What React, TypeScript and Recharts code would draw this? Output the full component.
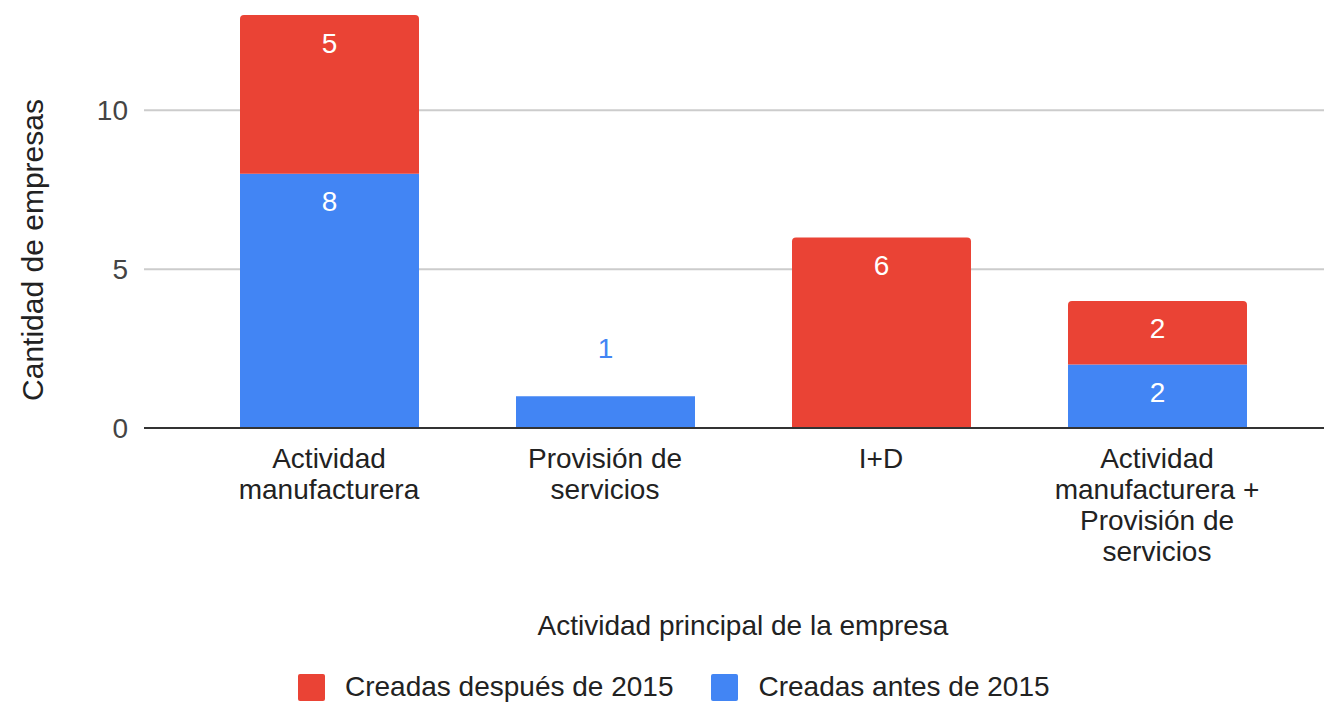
import { BarChart, Bar, XAxis, YAxis, CartesianGrid, Legend, LabelList } from "recharts";

// Actividad principal de la empresa
const categories = [
  "Actividad\nmanufacturera",
  "Provisión de\nservicios",
  "I+D",
  "Actividad\nmanufacturera +\nProvisión de\nservicios",
];
const antes2015 = [8, 1, 0, 2];
const despues2015 = [5, 0, 6, 2];
const yTicks = [0, 5, 10];
const gridValues = [5, 10];

const RED = "#ea4335";
const BLUE = "#4285f4";
const FONT = "'Liberation Sans', Arial, sans-serif";
const TEXT = "#222";
const FS = 28;

const data = categories.map((name, i) => ({
  name,
  antes: antes2015[i],
  despues: despues2015[i],
}));

const CategoryTick = (props: any) => {
  const { x, y, payload } = props;
  const lines = String(payload.value).split("\n");
  return (
    <text x={x} y={y} textAnchor="middle" fill={TEXT} fontSize={FS} fontFamily={FONT}>
      {lines.map((line, i) => (
        <tspan key={i} x={x} dy={i === 0 ? 32 : 31}>
          {line}
        </tspan>
      ))}
    </text>
  );
};

// value inside the segment, or above it when the segment is too short
const segmentLabel = (color: string) => (props: any) => {
  const { x, y, width, height, value } = props;
  if (!value) return null;
  const inside = height >= 40;
  return (
    <text
      x={x + width / 2}
      y={inside ? y + 28 : y - 48}
      textAnchor="middle"
      dominantBaseline="central"
      fill={inside ? "#fff" : color}
      fontSize={FS}
      fontFamily={FONT}
    >
      {value}
    </text>
  );
};

const legendItems = [
  { label: "Creadas después de 2015", color: RED },
  { label: "Creadas antes de 2015", color: BLUE },
];

const LegendContent = () => (
  <div
    style={{
      height: 40,
      display: "flex",
      alignItems: "flex-end",
      paddingLeft: 298,
      fontFamily: FONT,
      fontSize: FS,
      color: TEXT,
    }}
  >
    {legendItems.map((item) => (
      <div key={item.label} style={{ display: "flex", alignItems: "center", marginRight: 38, height: 30, marginBottom: 0 }}>
        <div style={{ width: 27, height: 27, background: item.color, borderRadius: 2, marginRight: 20 }} />
        <span>{item.label}</span>
      </div>
    ))}
  </div>
);

export default function App() {
  return (
    <div style={{ position: "absolute", left: 0, top: 0, width: 1324, height: 702, background: "#fff" }}>
      <BarChart
        width={1324}
        height={702}
        data={data}
        margin={{ top: 15, right: 0, left: 0, bottom: 0 }}
        barSize={179}
      >
        <CartesianGrid vertical={false} horizontalValues={gridValues} stroke="#cccccc" strokeWidth={2} />
        <XAxis
          dataKey="name"
          height={234}
          padding={{ left: 47, right: 29 }}
          tick={<CategoryTick />}
          tickLine={false}
          tickSize={0}
          tickMargin={8}
          axisLine={{ stroke: "#333", strokeWidth: 2 }}
          interval={0}
          label={({ viewBox }: any) => (
            <text
              x={viewBox.x + viewBox.width / 2 + 9}
              y={625}
              textAnchor="middle"
              dominantBaseline="central"
              fill={TEXT}
              fontSize={FS}
              fontFamily={FONT}
            >
              Actividad principal de la empresa
            </text>
          )}
        />
        <YAxis
          width={144}
          domain={[0, 13]}
          ticks={yTicks}
          tickLine={false}
          axisLine={false}
          tickSize={0}
          tickMargin={16}
          tick={{ fill: "#444", fontSize: FS, fontFamily: FONT }}
          label={() => (
            <text
              x={32}
              y={250}
              transform="rotate(-90 32 250)"
              textAnchor="middle"
              dominantBaseline="central"
              fill={TEXT}
              fontSize={30}
              fontFamily={FONT}
            >
              Cantidad de empresas
            </text>
          )}
        />
        <Legend verticalAlign="bottom" content={<LegendContent />} />
        <Bar dataKey="antes" stackId="a" fill={BLUE} isAnimationActive={false}>
          <LabelList dataKey="antes" content={segmentLabel(BLUE)} />
        </Bar>
        <Bar dataKey="despues" stackId="a" fill={RED} radius={[4, 4, 0, 0]} isAnimationActive={false}>
          <LabelList dataKey="despues" content={segmentLabel(RED)} />
        </Bar>
      </BarChart>
    </div>
  );
}
